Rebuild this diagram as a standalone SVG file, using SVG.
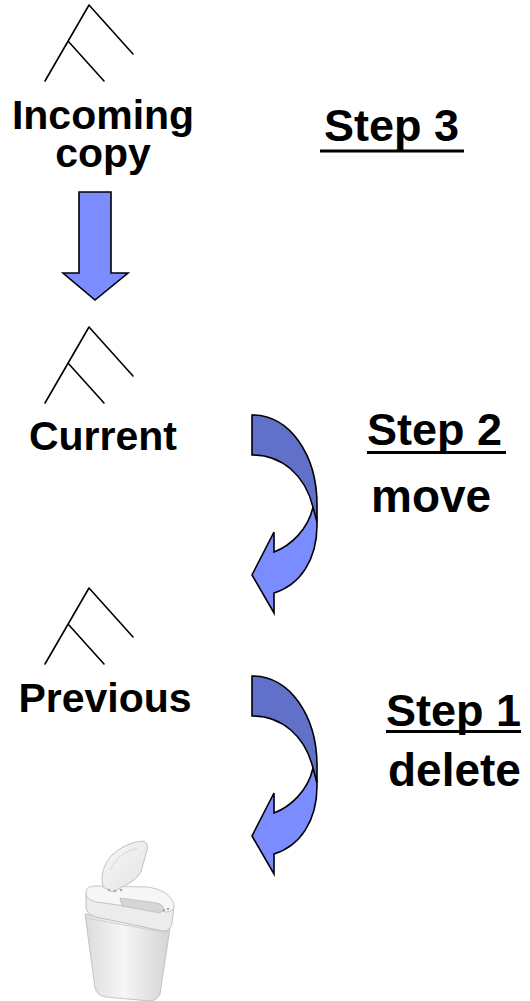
<svg xmlns="http://www.w3.org/2000/svg" width="530" height="1001" viewBox="0 0 530 1001">
<defs>
<style>
.tree{fill:none;stroke:#000;stroke-width:1.6;stroke-linecap:round}
.lbl{font-family:"Liberation Sans",Arial,sans-serif;font-weight:bold;font-size:41px;fill:#000;text-anchor:middle}
.step{font-family:"Liberation Sans",Arial,sans-serif;font-weight:bold;font-size:45px;fill:#000}
.act{font-family:"Liberation Sans",Arial,sans-serif;font-weight:bold;font-size:46px;fill:#000}
.light{fill:#7B8CFF;stroke:#000;stroke-width:1.6;stroke-linejoin:miter}
.dark{fill:#6170C9;stroke:#000;stroke-width:1.6}
</style>
<g id="treeShape">
<path class="tree" d="M89,5 L133,54 M89,5 L45,81 M68,41 L104,81"/>
</g>
<g id="curvedArrow">
<path class="light" d="M313,507 C316,512 317,516 317,525 C317,560 300,585 274,593 L274,613 L252,575 L274,532 L274,552 C290,546 308,530 313,507 Z"/>
<path class="dark" d="M252,415 C290,415 317,455 317,505 L317,522 L313,507 C305,475 282,455 252,455 Z"/>
</g>
<linearGradient id="bodyGrad" x1="0" y1="0" x2="1" y2="0">
<stop offset="0" stop-color="#dcdcdc"/>
<stop offset="0.45" stop-color="#f6f6f6"/>
<stop offset="1" stop-color="#d4d4d4"/>
</linearGradient>
<linearGradient id="lidGrad" x1="0" y1="0" x2="1" y2="1">
<stop offset="0" stop-color="#f8f8f8"/>
<stop offset="1" stop-color="#e2e2e2"/>
</linearGradient>
</defs>
<rect width="530" height="1001" fill="#fff"/>

<g id="connectors">
<path id="arrow-incoming-current" class="light" d="M79,192 L111,192 L111,273 L128,273 L95,300 L63,273 L79,273 Z"/>
<use id="arrow-current-previous" href="#curvedArrow"/>
<use id="arrow-previous-trash" href="#curvedArrow" transform="translate(0,261)"/>
</g>

<g id="node-incoming">
<use href="#treeShape"/>
<text class="lbl" x="103" y="129">Incoming</text>
<text class="lbl" x="103" y="167">copy</text>
</g>

<g id="node-current">
<use href="#treeShape" transform="translate(0,322)"/>
<text class="lbl" x="103" y="450">Current</text>
</g>

<g id="node-previous">
<use href="#treeShape" transform="translate(0,583)"/>
<text class="lbl" x="105" y="712">Previous</text>
</g>

<g id="step3">
<text class="step" x="324" y="141">Step 3</text>
<rect x="320" y="149.5" width="144" height="3" fill="#000"/>
</g>

<g id="step2">
<text class="step" x="367" y="445">Step 2</text>
<rect x="367" y="451" width="139" height="3" fill="#000"/>
<text class="act" x="371" y="512">move</text>
</g>

<g id="step1">
<text class="step" x="386" y="726">Step 1</text>
<rect x="386" y="730" width="135" height="3" fill="#000"/>
<text class="act" x="388" y="786">delete</text>
</g>

<g id="node-trash">
<path d="M85,914 L95,988 Q97,996 106,997 L150,1001 Q158,1000 160,994 L170,928 Z" fill="url(#bodyGrad)" stroke="#c4c4c4" stroke-width="1"/>
<path d="M86,894 L86,907 Q86,914 96,917 L163,931 Q171,931 172,923 L174,906 Z" fill="#ececec" stroke="#c0c0c0" stroke-width="1"/>
<path d="M86,893 Q86,886 95,886 L148,887 Q169,890 174,904 Q175,912 166,912 L97,902 Q86,900 86,893 Z" fill="#f6f6f6" stroke="#c6c6c6" stroke-width="1"/>
<path d="M120,898 L157,903 Q165,905 163,910 L160,913 L122,906 Z" fill="#d6d6d6" stroke="#bdbdbd" stroke-width="0.8"/>
<path d="M86,918 L168,933" stroke="#d0d0d0" stroke-width="1" fill="none"/>
<path d="M103,887 Q99,870 111,856 Q124,843 142,841 Q149,842 147,850 L141,872 Q136,880 128,884 L112,892 Z" fill="url(#lidGrad)" stroke="#c2c2c2" stroke-width="1"/>
<path d="M110,870 Q118,852 138,848" stroke="#d8d8d8" stroke-width="1" fill="none"/>
<circle cx="109" cy="890" r="1.3" fill="#a8a8a8"/>
<circle cx="115" cy="891" r="1.3" fill="#a8a8a8"/>
<circle cx="121" cy="890" r="1.3" fill="#a8a8a8"/>
<circle cx="164" cy="910" r="1.2" fill="#a8a8a8"/>
<circle cx="168" cy="909" r="1.2" fill="#a8a8a8"/>
</g>
</svg>
